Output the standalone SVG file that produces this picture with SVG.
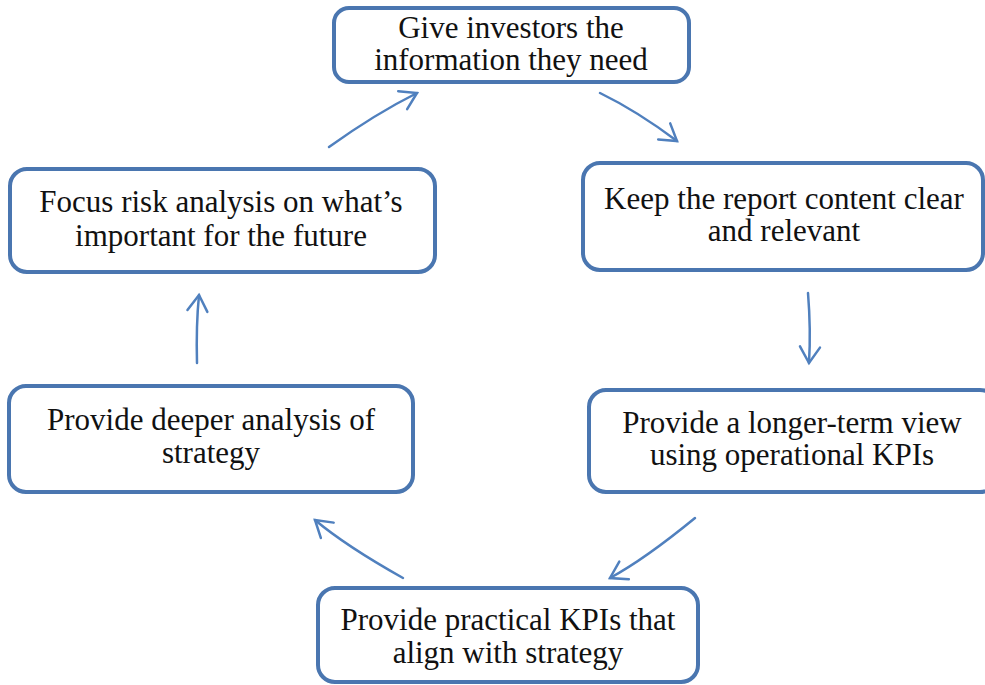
<svg xmlns="http://www.w3.org/2000/svg" width="985" height="685" viewBox="0 0 985 685">
<defs>
<style>
.box{fill:#ffffff;stroke:#4a76b0;stroke-width:4}
.lbl{font-family:Tinos,'Liberation Serif','Times New Roman',Times,'Noto Serif','DejaVu Serif',FreeSerif,serif;font-size:31px;fill:#111111;text-anchor:middle}
.arr{fill:none;stroke:#5080be;stroke-width:2.5;stroke-linecap:round;marker-end:url(#head)}
</style>
<marker id="head" markerUnits="userSpaceOnUse" markerWidth="24" markerHeight="24" viewBox="-2 -12 20 24" refX="16" refY="0" orient="auto">
<path d="M0,-10 L16,0 L0,10" fill="none" stroke="#5080be" stroke-width="2.5" stroke-linecap="round" stroke-linejoin="miter"/>
</marker>
</defs>
<rect width="985" height="685" fill="#ffffff"/>
<g id="connectors">
<path class="arr" d="M329,147 Q375,114 417,93"/>
<path class="arr" d="M600,93 Q637,111 677,141"/>
<path class="arr" d="M808,293 Q811,330 809,363"/>
<path class="arr" d="M695,518 Q645,559 610,578"/>
<path class="arr" d="M403,578 Q346,546 315,520"/>
<path class="arr" d="M197,363 Q196,325 199,295"/>
</g>
<g id="node-investors">
<rect class="box" x="334" y="8" width="355" height="74" rx="15"/>
<text class="lbl" x="511" y="38">Give investors the</text>
<text class="lbl" x="511" y="70">information they need</text>
</g>
<g id="node-keep">
<rect class="box" x="583" y="163" width="400" height="107" rx="17"/>
<text class="lbl" x="784" y="209">Keep the report content clear</text>
<text class="lbl" x="784" y="241">and relevant</text>
</g>
<g id="node-longer">
<rect class="box" x="589" y="390" width="408" height="102" rx="17"/>
<text class="lbl" x="792" y="433">Provide a longer-term view</text>
<text class="lbl" x="792" y="465">using operational KPIs</text>
</g>
<g id="node-practical">
<rect class="box" x="318" y="588" width="380" height="94" rx="17"/>
<text class="lbl" x="508" y="630">Provide practical KPIs that</text>
<text class="lbl" x="508" y="663">align with strategy</text>
</g>
<g id="node-deeper">
<rect class="box" x="9" y="386" width="404" height="106" rx="17"/>
<text class="lbl" x="211" y="430">Provide deeper analysis of</text>
<text class="lbl" x="211" y="463">strategy</text>
</g>
<g id="node-focus">
<rect class="box" x="10" y="169" width="425" height="103" rx="17"/>
<text class="lbl" x="221" y="212">Focus risk analysis on what’s</text>
<text class="lbl" x="221" y="246">important for the future</text>
</g>
</svg>
